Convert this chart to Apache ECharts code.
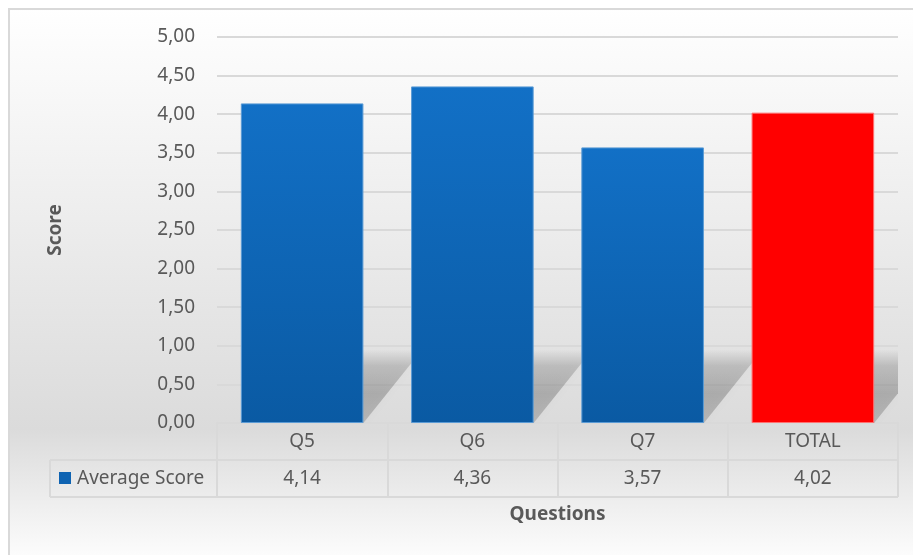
<!DOCTYPE html>
<html>
<head>
<meta charset="utf-8">
<script src="https://cdn.jsdelivr.net/npm/echarts@6/dist/echarts.min.js"></script>
<style>
html, body { margin: 0; padding: 0; background: #fff; }
#main { width: 913px; height: 555px; }
</style>
</head>
<body>
<div id="main"></div>
<script>
// data
var categories = ['Q5', 'Q6', 'Q7', 'TOTAL'];
var scores = [4.14, 4.36, 3.57, 4.02];
var seriesName = 'Average Score';
var yMin = 0, yMax = 5, yStep = 0.5;

// layout / style
var FONT = 'Noto Sans';
var TXT = '#595959';
var LINE = '#d9d9d9';
var W = 913, H = 555;
var G = { left: 217, right: 15, top: 37, bottom: 132 };
var axisY = H - G.bottom;       // table top
var rowH = 37;
var legendX = 50;
var tableRight = W - G.right;

function fmt(v) { return v.toFixed(2).replace('.', ','); }

var blueFill = new echarts.graphic.LinearGradient(0, 0, 0, 1, [
    { offset: 0, color: '#1270c6' },
    { offset: 1, color: '#0a5aa3' }
]);
var shadowFill = new echarts.graphic.LinearGradient(0, 0, 0, 1, [
    { offset: 0, color: 'rgba(0,0,0,0)' },
    { offset: 0.22, color: 'rgba(0,0,0,0.15)' },
    { offset: 0.6, color: 'rgba(0,0,0,0.21)' },
    { offset: 1, color: 'rgba(0,0,0,0.17)' }
]);

var myChart = echarts.init(document.getElementById('main'));

var option = {
    animation: false,
    textStyle: { fontFamily: FONT },
    graphic: [
        {   // chart area background + border
            type: 'rect', z: -10, silent: true,
            shape: { x: 9, y: 9, width: W + 20, height: H + 20 },
            style: {
                fill: new echarts.graphic.LinearGradient(0, 0, 0, 1, [
                    { offset: 0, color: '#ffffff' },
                    { offset: 0.73, color: '#dbdbdb' },
                    { offset: 0.97, color: '#ffffff' }
                ]),
                stroke: LINE, lineWidth: 2
            }
        },
        {   // table lines
            type: 'group', silent: true,
            children: [
                { type: 'line', shape: { x1: legendX, y1: axisY + rowH, x2: tableRight, y2: axisY + rowH }, style: { stroke: LINE, lineWidth: 2 } },
                { type: 'line', shape: { x1: legendX, y1: axisY + rowH * 2, x2: tableRight, y2: axisY + rowH * 2 }, style: { stroke: LINE, lineWidth: 2 } },
                { type: 'line', shape: { x1: legendX, y1: axisY + rowH, x2: legendX, y2: axisY + rowH * 2 }, style: { stroke: LINE, lineWidth: 2 } },
                { type: 'rect', shape: { x: 59, y: axisY + rowH + 12, width: 12, height: 12 }, style: { fill: '#0e63b2' } },
                { type: 'text', x: 77, y: axisY + rowH * 1.5, style: { text: seriesName, fill: TXT, font: '19px "Noto Sans"', verticalAlign: 'middle' } }
            ]
        }
    ],
    grid: G,
    xAxis: {
        type: 'category',
        data: categories,
        name: 'Questions',
        nameLocation: 'middle',
        nameGap: 82,
        nameTextStyle: { color: TXT, fontSize: 19, fontWeight: 'bold' },
        axisLine: { lineStyle: { color: LINE, width: 2 } },
        axisTick: { show: true, length: rowH * 2, interval: 0, lineStyle: { color: LINE, width: 2 } },
        axisLabel: {
            interval: 0,
            margin: 0,
            formatter: function (val, idx) {
                return '{q|' + val + '}\n{v|' + fmt(scores[idx]) + '}';
            },
            rich: {
                q: { color: TXT, fontSize: 19, lineHeight: rowH, fontFamily: FONT },
                v: { color: TXT, fontSize: 19, lineHeight: rowH, fontFamily: FONT }
            }
        }
    },
    yAxis: {
        type: 'value',
        min: yMin, max: yMax, interval: yStep,
        name: 'Score',
        nameLocation: 'middle',
        nameGap: 152,
        nameTextStyle: { color: TXT, fontSize: 19, fontWeight: 'bold' },
        axisLine: { show: false },
        axisTick: { show: false },
        axisLabel: { color: TXT, fontSize: 19, margin: 22, formatter: fmt },
        splitLine: { lineStyle: { color: LINE, width: 2 } }
    },
    series: [
        {   // perspective shadow behind bars
            type: 'custom',
            silent: true,
            clip: true,
            z: 1,
            data: scores.map(function (v, i) { return [i, v]; }),
            renderItem: function (params, api) {
                var base = api.coord([api.value(0), 0]);
                var bw = api.size([1, 0])[0] * 0.72;
                var h = api.size([0, 0.95])[1];
                var dx = h * 0.8;
                var x0 = base[0] - bw / 2, x1 = base[0] + bw / 2, y0 = base[1];
                return {
                    type: 'polygon',
                    shape: { points: [[x0, y0], [x1, y0], [x1 + dx, y0 - h], [x0 + dx, y0 - h]] },
                    style: { fill: shadowFill, shadowBlur: 10, shadowColor: 'rgba(0,0,0,0.12)' }
                };
            }
        },
        {
            name: seriesName,
            type: 'bar',
            z: 2,
            barCategoryGap: '28%',
            data: scores.map(function (v, i) {
                var isTotal = categories[i] === 'TOTAL';
                return {
                    value: v,
                    itemStyle: isTotal
                        ? { color: '#ff0000', borderColor: '#ff7070', borderWidth: 1 }
                        : { color: blueFill, borderColor: '#5b9bd5', borderWidth: 1 }
                };
            })
        }
    ]
};

myChart.setOption(option);
</script>
</body>
</html>
